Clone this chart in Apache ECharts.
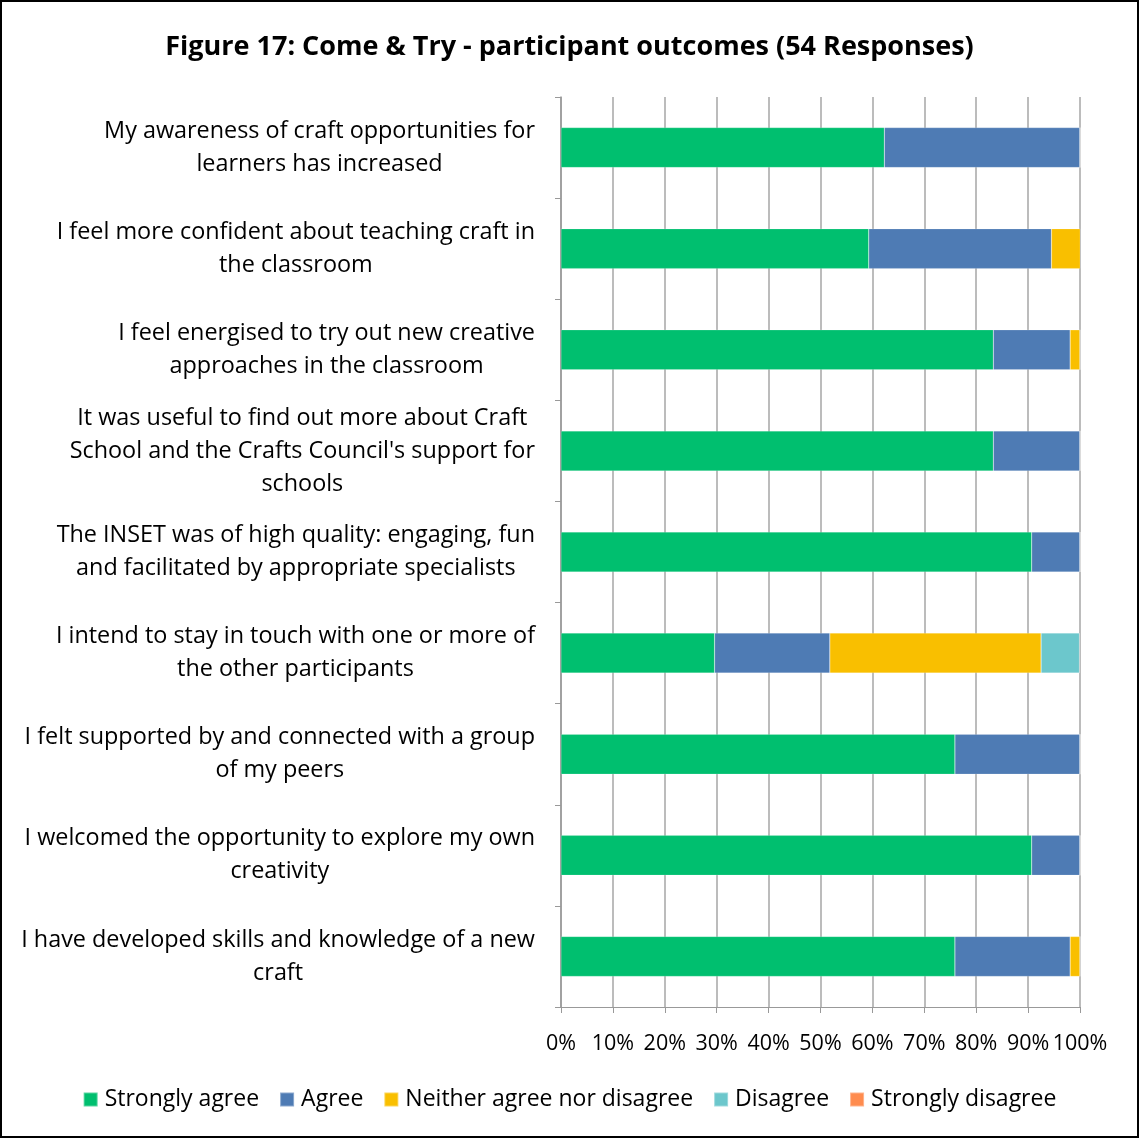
<!DOCTYPE html>
<html>
<head>
<meta charset="utf-8">
<script src="https://cdn.jsdelivr.net/npm/echarts@6/dist/echarts.min.js"></script>
<style>
  html, body { margin: 0; padding: 0; background: #fff; }
  #chart { width: 1139px; height: 1138px; box-sizing: border-box; border: 2px solid #000; }
</style>
</head>
<body>
<div id="chart"></div>
<script>
// Survey statements, top to bottom
const categories = [
  "My awareness of craft opportunities for\nlearners has increased",
  "I feel more confident about teaching craft in\nthe classroom",
  "I feel energised to try out new creative\napproaches in the classroom",
  "It was useful to find out more about Craft\nSchool and the Crafts Council's support for\nschools",
  "The INSET was of high quality: engaging, fun\nand facilitated by appropriate specialists",
  "I intend to stay in touch with one or more of\nthe other participants",
  "I felt supported by and connected with a group\nof my peers",
  "I welcomed the opportunity to explore my own\ncreativity",
  "I have developed skills and knowledge of a new\ncraft"
];

// Share of responses (%) per answer
const stronglyAgree    = [62.3, 59.3, 83.3, 83.3, 90.7, 29.6, 75.9, 90.7, 75.9];
const agree            = [37.7, 35.2, 14.8, 16.7,  9.3, 22.2, 24.1,  9.3, 22.2];
const neither          = [0,     5.6,  1.9,  0,    0,   40.7,  0,    0,    1.9];
const disagree         = [0,     0,    0,    0,    0,    7.4,  0,    0,    0];
const stronglyDisagree = [0,     0,    0,    0,    0,    0,    0,    0,    0];

const seriesNames = ["Strongly agree", "Agree", "Neither agree nor disagree", "Disagree", "Strongly disagree"];
const seriesData = [stronglyAgree, agree, neither, disagree, stronglyDisagree];
const colors = ["#00BF6F", "#4E7BB4", "#F9BF00", "#6CC7CC", "#FF8C4F"];

const FONT = "'Open Sans', sans-serif";

const chart = echarts.init(document.getElementById("chart"));
chart.setOption({
  animation: false,
  color: colors,
  title: {
    text: "Figure 17: Come & Try - participant outcomes (54 Responses)",
    left: "center",
    top: 27,
    textStyle: { fontFamily: FONT, fontSize: 27, fontWeight: "bold", color: "#000" }
  },
  legend: {
    bottom: 20,
    left: "center",
    icon: "rect",
    itemWidth: 14,
    itemHeight: 14,
    itemGap: 20,
    textStyle: { fontFamily: FONT, fontSize: 23, color: "#000", padding: [0, 0, 0, 2] },
    data: seriesNames
  },
  grid: { left: 559, right: 57, top: 95, bottom: 129, containLabel: false },
  xAxis: {
    type: "value",
    min: 0,
    max: 100,
    interval: 10,
    axisLine: { show: true, lineStyle: { color: "#999", width: 1 } },
    axisTick: { show: true, length: 6, lineStyle: { color: "#999" } },
    axisLabel: { formatter: "{value}%", fontFamily: FONT, fontSize: 21.5, color: "#000", margin: 26 },
    splitLine: { show: true, lineStyle: { color: "#a6a6a6", width: 1.5 } }
  },
  yAxis: {
    type: "category",
    inverse: true,
    data: categories,
    axisLine: { show: true, lineStyle: { color: "#999", width: 1.5 } },
    axisTick: { show: true, length: 6, lineStyle: { color: "#999" } },
    axisLabel: {
      align: "right",
      margin: 26,
      // each wrapped line is centred within the label block
      formatter: (v) => v.split("\n").map(s => "{c|" + s + "}").join("\n"),
      rich: {
        c: { fontFamily: FONT, fontSize: 23.4, color: "#000", align: "center", lineHeight: 33 }
      }
    },
    splitLine: { show: false }
  },
  series: seriesNames.map((name, i) => ({
    name: name,
    type: "bar",
    stack: "total",
    barWidth: 40,
    data: seriesData[i],
    itemStyle: { borderColor: "rgba(255,255,255,0.35)", borderWidth: 0.5 }
  }))
});
</script>
</body>
</html>
